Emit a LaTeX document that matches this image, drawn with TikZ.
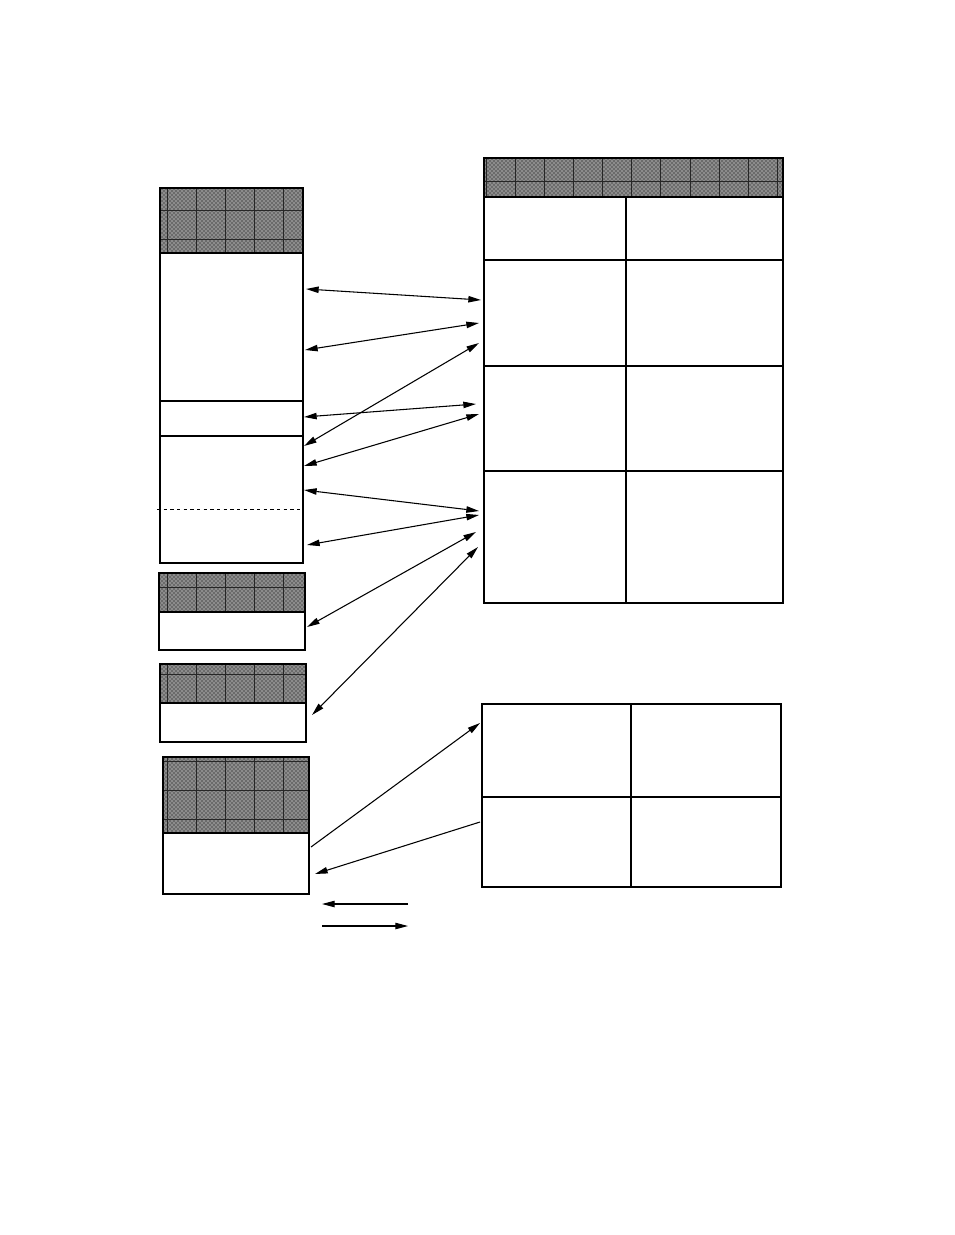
\documentclass[tikz,border=0pt]{standalone}
\usetikzlibrary{arrows.meta,patterns}
\newcommand{\headgrid}[4]{%
  \fill[hd] (#1,#2) rectangle (#3,#4);
  \begin{scope}
    \clip (#1,#2) rectangle (#3,#4);
    \foreach \i in {0,...,21}
      \draw[gl] (167+29.05*\i,#2) -- (167+29.05*\i,#4);
    \foreach \j in {-1,...,23}
      \draw[gl] (#1,181+29*\j) -- (#3,181+29*\j);
  \end{scope}}
\begin{document}
\begin{tikzpicture}[x=0.75pt,y=-0.75pt,
        box/.style={draw, line width=1.6pt},
        ln/.style={line width=0.8pt},
        gl/.style={black!85, line width=0.6pt},
        hd/.style={fill=black!45, postaction={pattern=crosshatch dots, pattern color=black}},
        tip/.tip={Triangle[length=9.5pt,width=4.8pt]},
        dbl/.style={line width=0.8pt, tip-tip},
        sgl/.style={line width=0.8pt, -tip}]
    \useasboundingbox (0,0) rectangle (954,1235);
    % left column
    \headgrid{160}{188}{303}{253}
    \draw[box] (160,188) rectangle (303,563) (160,253) -- (303,253);
    \draw[ln] (160,401) -- (303,401) (160,436) -- (303,436);
    \draw[line width=0.5pt, dash pattern=on 2.5pt off 2.5pt] (157,509) -- (303,509);
    \foreach \xa/\ya/\xb/\yb/\ym in {159/573/305/650/612, 160/664/306/742/703, 163/757/309/894/833} {
        \headgrid{\xa}{\ya}{\xb}{\ym}
        \draw[box] (\xa,\ya) rectangle (\xb,\yb) (\xa,\ym) -- (\xb,\ym);
    }
    % right column
    \headgrid{484}{158}{783}{197}
    \draw[box] (484,158) rectangle (783,603) (484,197) -- (783,197);
    \draw[ln] (626,197) -- (626,603);
    \foreach \y in {260,366,471}
        \draw[ln] (484,\y) -- (783,\y);
    \draw[box] (482,704) rectangle (781,887);
    \draw[ln] (631,704) -- (631,887) (482,797) -- (781,797);
    % connectors
    \foreach \n/\xa/\ya/\xb/\yb in {1/306/289/481/300, 2/305/350/479/323, 3/304/446/479/343,
            4/304/417/476/404, 5/304/466/479/414, 6/304/490/479/511, 7/307/545/479/515,
            8/307/627/476/532, 9/312/715/478/547} {
        \coordinate (l\n) at (\xa,\ya);
        \coordinate (r\n) at (\xb,\yb);
        \draw[dbl] (l\n) -- (r\n);
    }
    \coordinate (l10) at (311,847);
    \coordinate (r10) at (480,723);
    \coordinate (r11) at (480,822);
    \coordinate (l11) at (315,874);
    \draw[sgl] (l10) -- (r10);
    \draw[sgl] (r11) -- (l11);
    % legend
    \coordinate (ka) at (408,904);
    \coordinate (kb) at (322,904);
    \coordinate (kc) at (322,926);
    \coordinate (kd) at (408,926);
    \draw[sgl] (ka) -- (kb);
    \draw[sgl] (kc) -- (kd);
\end{tikzpicture}
\end{document}
